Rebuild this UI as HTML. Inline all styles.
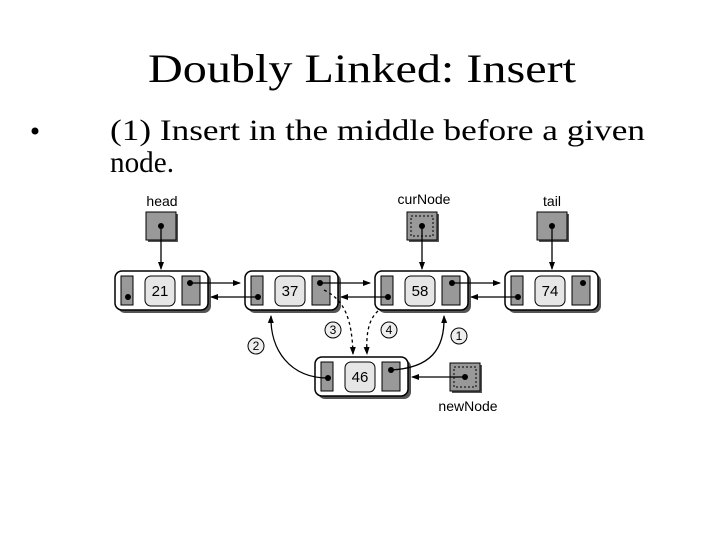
<!DOCTYPE html>
<html><head><meta charset="utf-8"><style>html,body{margin:0;padding:0;background:#fff}svg{display:block}</style></head>
<body>
<svg width="720" height="540" viewBox="0 0 720 540" xmlns="http://www.w3.org/2000/svg">
<defs>
<marker id="ah" markerWidth="8" markerHeight="8" refX="7" refY="4" orient="auto" markerUnits="userSpaceOnUse">
<path d="M0,1 L8,4 L0,7 Z" fill="#000"/></marker>
<g id="node">
<rect x="3" y="3" width="93" height="39" rx="7" fill="#555"/>
<rect x="0" y="0" width="93" height="39" rx="7" fill="#fff" stroke="#000" stroke-width="1.5"/>
<rect x="6" y="5" width="12" height="29" fill="#999" stroke="#000"/>
<rect x="30" y="5" width="30" height="30" rx="6" fill="#e6e6e6" stroke="#000"/>
<rect x="67" y="5" width="18" height="29" fill="#999" stroke="#000"/>
</g>
</defs>
<text x="362" y="82" text-anchor="middle" font-family="Liberation Serif, serif" font-size="40" textLength="428" lengthAdjust="spacingAndGlyphs">Doubly Linked: Insert</text>
<circle cx="35" cy="131" r="3.5" fill="#000"/>
<text x="110" y="140" font-family="Liberation Serif, serif" font-size="30" textLength="535" lengthAdjust="spacingAndGlyphs">(1) Insert in the middle before a given</text>
<text x="110" y="172" font-family="Liberation Serif, serif" font-size="30" textLength="64" lengthAdjust="spacingAndGlyphs">node.</text>

<g font-family="Liberation Sans, sans-serif" font-size="14">
<text x="162" y="206" text-anchor="middle">head</text>
<text x="424" y="204" text-anchor="middle">curNode</text>
<text x="552" y="206" text-anchor="middle">tail</text>
<text x="468" y="411" text-anchor="middle">newNode</text>
</g>
<!-- pointer boxes -->
<rect x="148" y="214" width="30" height="28" fill="#555"/>
<rect x="146" y="212" width="30" height="28" fill="#999" stroke="#000"/>
<rect x="409" y="214" width="30" height="28" fill="#555"/>
<rect x="407" y="212" width="30" height="28" fill="#999" stroke="#000"/>
<rect x="411" y="216" width="22" height="20" fill="none" stroke="#000" stroke-dasharray="2,2"/>
<rect x="539" y="214" width="30" height="28" fill="#555"/>
<rect x="537" y="212" width="30" height="28" fill="#999" stroke="#000"/>
<rect x="452" y="365" width="30" height="28" fill="#555"/>
<rect x="450" y="363" width="30" height="28" fill="#999" stroke="#000"/>
<rect x="454" y="367" width="22" height="20" fill="none" stroke="#000" stroke-dasharray="2,2"/>
<!-- nodes -->
<use href="#node" x="115" y="271"/>
<use href="#node" x="245" y="271"/>
<use href="#node" x="375" y="271"/>
<use href="#node" x="505" y="271"/>
<use href="#node" x="315" y="357"/>
<g font-family="Liberation Sans, sans-serif" font-size="15" text-anchor="middle">
<text x="160" y="296">21</text><text x="290" y="296">37</text><text x="420" y="296">58</text><text x="550" y="296">74</text><text x="360" y="382">46</text>
</g>
<g stroke="#000" stroke-width="1.3" fill="none">
<line x1="161" y1="226" x2="161" y2="269" marker-end="url(#ah)"/>
<line x1="422" y1="226" x2="422" y2="269" marker-end="url(#ah)"/>
<line x1="552" y1="226" x2="552" y2="269" marker-end="url(#ah)"/>
<line x1="191" y1="283" x2="240" y2="283" marker-end="url(#ah)"/>
<line x1="321" y1="283" x2="370" y2="283" marker-end="url(#ah)"/>
<line x1="453" y1="283" x2="500" y2="283" marker-end="url(#ah)"/>
<line x1="258" y1="297" x2="211" y2="297" marker-end="url(#ah)"/>
<line x1="388" y1="297" x2="341" y2="297" marker-end="url(#ah)"/>
<line x1="518" y1="297" x2="471" y2="297" marker-end="url(#ah)"/>
<line x1="463" y1="377" x2="412" y2="377" marker-end="url(#ah)"/>
<path d="M328,378 C290,378 270,350 271,316" marker-end="url(#ah)"/>
<path d="M391,370 C430,368 445,350 444,316" marker-end="url(#ah)"/>
<path d="M324,290 C345,300 352,320 353,354" stroke-dasharray="3,3" marker-end="url(#ah)"/>
<path d="M378,311 C368,320 366,335 367,354" stroke-dasharray="3,3" marker-end="url(#ah)"/>
</g>
<g fill="#000">
<circle cx="128" cy="297" r="3"/><circle cx="190" cy="283" r="3"/>
<circle cx="258" cy="297" r="3"/><circle cx="320" cy="283" r="3"/>
<circle cx="388" cy="297" r="3"/><circle cx="452" cy="283" r="3"/>
<circle cx="518" cy="297" r="3"/><circle cx="583" cy="283" r="3"/>
<circle cx="328" cy="378" r="3"/><circle cx="391" cy="370" r="3"/>
<circle cx="161" cy="226" r="3"/><circle cx="422" cy="226" r="3"/><circle cx="552" cy="226" r="3"/><circle cx="465" cy="377" r="3"/>
</g>
<g font-family="Liberation Sans, sans-serif" font-size="12" text-anchor="middle">
<circle cx="333" cy="330" r="8" fill="#eee" stroke="#000"/><text x="333" y="334">3</text>
<circle cx="389" cy="330" r="8" fill="#eee" stroke="#000"/><text x="389" y="334">4</text>
<circle cx="256" cy="346" r="8" fill="#eee" stroke="#000"/><text x="256" y="350">2</text>
<circle cx="459" cy="336" r="8" fill="#eee" stroke="#000"/><text x="459" y="340">1</text>
</g>
</svg>
</body></html>
